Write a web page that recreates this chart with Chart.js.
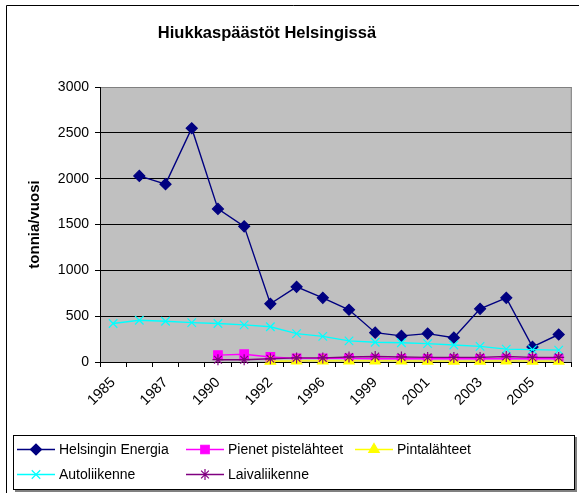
<!DOCTYPE html>
<html>
<head>
<meta charset="utf-8">
<script src="https://cdn.jsdelivr.net/npm/chart.js@4/dist/chart.umd.min.js"></script>
<style>
  html, body { margin: 0; padding: 0; background: #fff; }
  #wrap { position: relative; width: 579px; height: 493px; }
</style>
</head>
<body>
<div id="wrap"><canvas id="canvas" width="579" height="493"></canvas></div>
<script>
// vuodet (joka toinen näytetään akselilla)
const years = ['1985', '1986', '1987', '1989', '1990', '1991', '1992', '1995', '1996',
               '1998', '1999', '2000', '2001', '2002', '2003', '2004', '2005', '2006'];

// tonnia/vuosi
const helsinginEnergia = [null, 2030, 1940, 2550, 1670, 1480, 635, 820, 700, 570, 320, 285, 310, 265, 580, 700, 165, 300];
const pienetPistelahteet = [null, null, null, null, 75, 85, 55, 40, 40, 40, 35, 35, 35, 35, 35, 35, 35, 35];
const pintalahteet = [null, null, null, null, null, null, 8, 12, 12, 12, 12, 12, 10, 10, 10, 12, 10, 10];
const autoliikenne = [420, 455, 445, 430, 420, 405, 385, 310, 280, 230, 215, 210, 200, 185, 170, 140, 135, 130];
const laivaliikenne = [null, null, null, null, 25, 25, 35, 45, 45, 55, 60, 55, 50, 50, 50, 60, 50, 50];

const yTicks = [0, 500, 1000, 1500, 2000, 2500, 3000];

const FONT = '"Liberation Sans", Arial, sans-serif';

function series(label, data, color, style, radius, order) {
    return {
        label: label,
        data: data,
        borderColor: color,
        backgroundColor: color,
        pointStyle: style,
        pointRadius: radius,
        pointHoverRadius: radius,
        pointBorderColor: color,
        pointBackgroundColor: color,
        pointBorderWidth: 1.2,
        borderWidth: 1.4,
        tension: 0,
        spanGaps: false,
        clip: false,
        order: order,
    };
}

// tausta, reunat, otsikko ja selite
const excelLook = {
    id: 'excelLook',
    beforeDraw(chart) {
        const ctx = chart.ctx;
        const a = chart.chartArea;
        ctx.save();
        ctx.fillStyle = '#C0C0C0';
        ctx.fillRect(a.left, a.top, a.right - a.left, a.bottom - a.top);
        ctx.strokeStyle = '#808080';
        ctx.lineWidth = 1;
        ctx.beginPath();
        ctx.moveTo(a.left, a.top + 0.5);
        ctx.lineTo(a.right - 0.5, a.top + 0.5);
        ctx.lineTo(a.right - 0.5, a.bottom);
        ctx.stroke();
        // ulkoreuna
        ctx.strokeStyle = '#000';
        ctx.beginPath();
        ctx.moveTo(6.5, 600);
        ctx.lineTo(6.5, 5.5);
        ctx.lineTo(600, 5.5);
        ctx.stroke();
        // otsikko
        ctx.fillStyle = '#000';
        ctx.font = 'bold 16.5px ' + FONT;
        ctx.textAlign = 'center';
        ctx.textBaseline = 'middle';
        ctx.fillText('Hiukkaspäästöt Helsingissä', 267, 33);
        ctx.restore();
    },
    afterDraw(chart) {
        const ctx = chart.ctx;
        ctx.save();
        // varjo + kehys
        ctx.fillStyle = '#808080';
        ctx.fillRect(15, 437, 562, 55);
        ctx.fillStyle = '#fff';
        ctx.fillRect(13, 435, 562, 55);
        ctx.strokeStyle = '#000';
        ctx.lineWidth = 1;
        ctx.strokeRect(13.5, 435.5, 561, 54);

        const slots = [[17, 449], [186, 449], [355, 449], [17, 474], [186, 474]];
        ctx.font = '14px ' + FONT;
        ctx.textBaseline = 'middle';
        ctx.textAlign = 'left';
        chart.data.datasets.forEach((ds, i) => {
            const [x, y] = slots[i];
            ctx.strokeStyle = ds.borderColor;
            ctx.fillStyle = ds.borderColor;
            ctx.lineWidth = 1.4;
            ctx.beginPath();
            ctx.moveTo(x, y + 0.5);
            ctx.lineTo(x + 38, y + 0.5);
            ctx.stroke();
            ctx.lineWidth = 1.2;
            Chart.helpers.drawPoint(ctx, {
                pointStyle: ds.pointStyle,
                radius: ds.pointRadius,
                borderWidth: 1.2,
                rotation: 0,
            }, x + 19, y + 0.5);
            ctx.fillStyle = '#000';
            ctx.fillText(ds.label, x + 42, y + 1);
        });
        ctx.restore();
    }
};

const ctx = document.getElementById('canvas').getContext('2d');
const chart = new Chart(ctx, {
    type: 'line',
    data: {
        labels: years,
        datasets: [
            series('Helsingin Energia', helsinginEnergia, '#000080', 'rectRot', 5.5, 5),
            series('Pienet pistelähteet', pienetPistelahteet, '#FF00FF', 'rect', 6, 4),
            series('Pintalähteet', pintalahteet, '#FFFF00', 'triangle', 6, 3),
            series('Autoliikenne', autoliikenne, '#00FFFF', 'crossRot', 6, 2),
            series('Laivaliikenne', laivaliikenne, '#800080', 'star', 5.5, 1),
        ],
    },
    options: {
        responsive: false,
        maintainAspectRatio: false,
        animation: false,
        layout: { padding: { left: 0, right: 7, top: 87, bottom: 0 } },
        plugins: {
            legend: { display: false },
            title: { display: false },
            tooltip: { enabled: false },
        },
        scales: {
            x: {
                offset: true,
                grid: {
                    offset: true,
                    drawOnChartArea: false,
                    drawTicks: true,
                    tickLength: 5,
                    tickColor: '#000',
                },
                border: { display: true, color: '#000', width: 1 },
                ticks: {
                    autoSkip: false,
                    maxRotation: 45,
                    minRotation: 45,
                    padding: 7,
                    color: '#000',
                    font: { family: FONT, size: 14.5 },
                    callback: function (val, idx) {
                        return idx % 2 === 0 ? this.getLabelForValue(val) : '';
                    },
                },
                afterFit(scale) { scale.height = 131; },
            },
            y: {
                min: 0,
                max: 3000,
                afterBuildTicks(scale) { scale.ticks = yTicks.map(v => ({ value: v })); },
                grid: {
                    color: c => (c.tick && c.tick.value === 3000 ? '#808080' : '#000'),
                    lineWidth: 1,
                    drawTicks: true,
                    tickLength: 5,
                    tickColor: '#000',
                },
                border: { display: true, color: '#000', width: 1 },
                ticks: {
                    padding: 6,
                    color: '#000',
                    font: { family: FONT, size: 14 },
                    callback: v => String(v),
                },
                title: {
                    display: true,
                    text: 'tonnia/vuosi',
                    color: '#000',
                    font: { family: FONT, size: 15, weight: 'bold' },
                    padding: { top: 26, bottom: 0 },
                },
                afterFit(scale) { scale.width = 100; },
            },
        },
    },
    plugins: [excelLook],
});
</script>
</body>
</html>
